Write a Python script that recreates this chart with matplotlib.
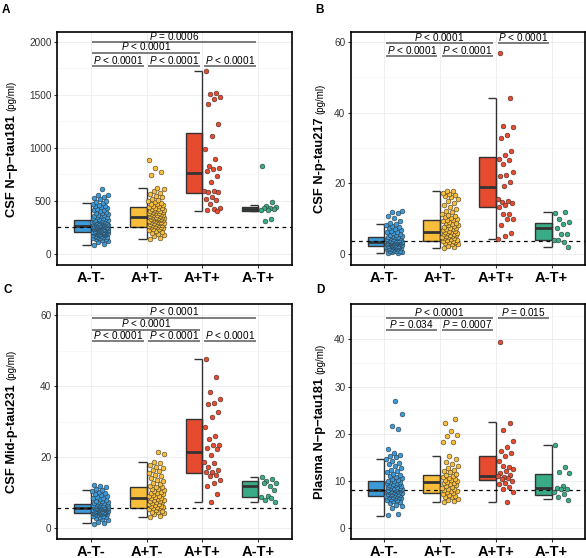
import matplotlib
matplotlib.use("Agg")

import matplotlib.pyplot as plt
import matplotlib.transforms as mtransforms
import numpy as np

plt.rcParams["font.family"] = ["Liberation Sans", "DejaVu Sans"]
plt.rcParams["mathtext.fontset"] = "custom"
plt.rcParams["mathtext.it"] = "Liberation Sans:italic"
plt.rcParams["mathtext.rm"] = "Liberation Sans"

# Groups and colours
groups = ["A-T-", "A+T-", "A+T+", "A-T+"]
colors = ["#3d9ad8", "#f8bd3b", "#e64b2f", "#3aab87"]

# ---------------- Panel A: CSF N-p-tau181 ----------------
a_atm = [85, 96, 112, 119, 131, 137, 144, 149, 153, 156, 161, 164, 170, 171, 176, 179, 180, 184,
         187, 189, 190, 194, 196, 199, 201, 203, 203, 207, 209, 211, 212, 215, 217, 219, 220, 223,
         225, 226, 229, 231, 232, 235, 237, 238, 241, 244, 246, 248, 250, 250, 253, 256, 258, 259,
         262, 263, 265, 266, 269, 270, 272, 274, 276, 279, 280, 283, 285, 288, 290, 292, 295, 297,
         300, 302, 306, 309, 310, 313, 316, 319, 322, 325, 330, 333, 338, 341, 346, 351, 354, 360,
         366, 370, 377, 383, 388, 395, 402, 411, 417, 425, 433, 441, 449, 455, 463, 472, 480, 491,
         503, 515, 528, 540, 553, 561, 612]
a_apm = [142, 155, 168, 180, 191, 200, 211, 219, 227, 234, 240, 246, 251, 255, 258, 262, 266, 270,
         273, 277, 281, 284, 288, 291, 295, 298, 302, 305, 309, 312, 316, 320, 323, 327, 330, 334,
         337, 341, 344, 348, 351, 353, 357, 360, 364, 367, 371, 374, 378, 382, 385, 389, 393, 397,
         401, 405, 409, 414, 418, 423, 427, 432, 437, 442, 448, 454, 461, 468, 476, 484, 493, 502,
         512, 523, 535, 548, 562, 577, 593, 610, 624, 741, 772, 811, 890]
a_app = [1726, 1519, 1509, 1478, 1459, 1412, 1229, 1113, 987, 896, 830, 808, 799, 786, 739, 679,
         594, 590, 588, 583, 541, 522, 512, 472, 431, 424, 415, 410]
a_amp = [827, 494, 457, 446, 437, 430, 421, 419, 412, 333, 309]
a_q1 = [204, 257, 571, 409]
a_med = [264, 352, 767, 424]
a_q3 = [320, 440, 1140, 446]
a_lo = [85, 141, 409, 409]
a_hi = [483, 625, 1722, 459]
a_ref = 258
a_comps = [(1, 2, 1775, "P < 0.0001"), (2, 3, 1775, "P < 0.0001"), (3, 4, 1775, "P < 0.0001"),
           (1, 3, 1900, "P < 0.0001"), (1, 4, 2000, "P = 0.0006")]

# ---------------- Panel B: CSF N-p-tau217 ----------------
b_atm = [0.2, 0.3, 0.5, 0.6, 0.8, 0.9, 1.0, 1.2, 1.3, 1.4, 1.5, 1.6, 1.7, 1.8, 1.9, 1.9, 2.0, 2.1,
         2.2, 2.2, 2.3, 2.4, 2.4, 2.5, 2.6, 2.6, 2.7, 2.8, 2.8, 2.9, 3.0, 3.0, 3.1, 3.2, 3.2, 3.3,
         3.3, 3.4, 3.5, 3.5, 3.6, 3.6, 3.7, 3.8, 3.8, 3.9, 4.0, 4.1, 4.1, 4.2, 4.3, 4.4, 4.5, 4.6,
         4.7, 4.8, 4.9, 5.0, 5.2, 5.3, 5.5, 5.7, 5.9, 6.1, 6.3, 6.6, 6.8, 7.1, 7.3, 7.6, 7.9, 8.2,
         8.4, 8.8, 9.4, 10.1, 10.9, 11.5, 11.8, 12.1]
b_apm = [1.8, 2.1, 2.4, 2.7, 2.9, 3.1, 3.3, 3.5, 3.6, 3.8, 3.9, 4.1, 4.2, 4.4, 4.5, 4.7, 4.8, 5.0,
         5.1, 5.3, 5.4, 5.6, 5.7, 5.9, 6.0, 6.2, 6.3, 6.5, 6.6, 6.8, 7.0, 7.1, 7.3, 7.5, 7.7, 7.9,
         8.1, 8.3, 8.5, 8.7, 8.9, 9.1, 9.3, 9.5, 9.7, 9.9, 10.2, 10.5, 10.8, 11.1, 11.4, 11.8, 12.2,
         12.7, 13.2, 13.8, 14.5, 15.1, 15.6, 16.0, 16.4, 16.8, 17.1, 17.4, 17.7, 17.9]
b_app = [56.8, 44.2, 36.3, 35.9, 33.8, 32.8, 29.2, 28.1, 26.9, 26.5, 25.4, 23.3, 22.4, 22.1, 20.3,
         19.2, 15.7, 15.1, 14.8, 14.3, 14.0, 13.4, 11.3, 11.2, 10.0, 9.9, 8.3, 5.9, 5.2, 4.2]
b_amp = [11.5, 11.8, 9.8, 9.0, 8.4, 7.5, 5.7, 5.7, 4.0, 3.4, 4.0, 2.1]
b_q1 = [2.3, 3.7, 13.2, 4.0]
b_med = [3.5, 6.3, 19.1, 7.5]
b_q3 = [4.7, 9.6, 27.5, 8.9]
b_lo = [0.2, 1.8, 4.2, 2.1]
b_hi = [8.5, 17.9, 44.1, 11.8]
b_ref = 3.7
b_comps = [(1, 2, 56.0, "P < 0.0001"), (2, 3, 56.0, "P < 0.0001"),
           (1, 3, 59.6, "P < 0.0001"), (3, 4, 59.6, "P < 0.0001")]

# ---------------- Panel C: CSF Mid-p-tau231 ----------------
c_atm = [1.2, 1.5, 1.9, 2.3, 2.6, 2.9, 3.1, 3.3, 3.5, 3.6, 3.8, 3.9, 4.0, 4.1, 4.2, 4.3, 4.3, 4.4,
         4.5, 4.5, 4.6, 4.7, 4.7, 4.8, 4.9, 4.9, 5.0, 5.1, 5.1, 5.2, 5.3, 5.3, 5.4, 5.5, 5.5, 5.6,
         5.6, 5.7, 5.8, 5.8, 5.9, 6.0, 6.0, 6.1, 6.2, 6.2, 6.3, 6.4, 6.5, 6.5, 6.6, 6.7, 6.8, 6.9,
         7.0, 7.1, 7.2, 7.4, 7.5, 7.7, 7.8, 8.0, 8.2, 8.4, 8.6, 8.9, 9.1, 9.4, 9.7, 10.0, 10.3,
         10.6, 10.9, 11.2, 11.5, 11.8, 12.1]
c_apm = [3.3, 3.6, 3.9, 4.2, 4.5, 4.7, 5.0, 5.2, 5.4, 5.6, 5.8, 5.9, 6.1, 6.3, 6.4, 6.6, 6.8, 6.9,
         7.1, 7.3, 7.4, 7.6, 7.8, 7.9, 8.1, 8.3, 8.4, 8.6, 8.8, 9.0, 9.2, 9.4, 9.6, 9.8, 10.0, 10.2,
         10.5, 10.7, 11.0, 11.2, 11.5, 11.7, 12.0, 12.4, 12.8, 13.2, 13.6, 14.1, 14.6, 15.1, 15.6,
         16.0, 16.4, 16.9, 17.3, 17.8, 18.3, 18.6, 20.8, 21.5]
c_app = [47.7, 42.5, 38.3, 36.3, 35.3, 34.9, 32.6, 31.4, 28.4, 26.0, 25.1, 23.5, 23.4, 22.7, 22.2,
         20.5, 18.6, 18.4, 17.3, 16.3, 15.9, 15.8, 15.1, 14.7, 13.6, 12.7, 11.8, 9.6, 7.5]
c_amp = [14.3, 13.8, 13.4, 12.8, 12.0, 12.7, 10.8, 9.2, 8.9, 8.5, 7.9, 7.3]
c_q1 = [4.4, 5.8, 15.7, 8.9]
c_med = [5.6, 8.4, 21.4, 11.9]
c_q3 = [6.8, 11.7, 30.7, 13.2]
c_lo = [1.4, 3.3, 7.5, 7.3]
c_hi = [10.8, 18.7, 47.6, 14.3]
c_ref = 5.6
c_comps = [(1, 2, 52.7, "P < 0.0001"), (2, 3, 52.7, "P < 0.0001"), (3, 4, 52.7, "P < 0.0001"),
           (1, 3, 55.9, "P < 0.0001"), (1, 4, 59.3, "P < 0.0001")]

# ---------------- Panel D: Plasma N-p-tau181 ----------------
d_atm = [2.7, 3.0, 4.3, 4.7, 5.0, 5.3, 5.5, 5.7, 5.9, 6.0, 6.2, 6.3, 6.4, 6.5, 6.6, 6.7, 6.8, 6.9,
         7.0, 7.0, 7.1, 7.2, 7.3, 7.3, 7.4, 7.5, 7.6, 7.6, 7.7, 7.8, 7.8, 7.9, 8.0, 8.0, 8.1, 8.2,
         8.2, 8.3, 8.4, 8.5, 8.5, 8.6, 8.7, 8.8, 8.9, 9.0, 9.1, 9.2, 9.3, 9.4, 9.5, 9.6, 9.7, 9.8,
         9.9, 10.0, 10.2, 10.4, 10.6, 10.8, 11.0, 11.2, 11.5, 11.8, 12.1, 12.4, 12.7, 13.1, 13.5,
         13.9, 14.3, 14.7, 15.0, 15.3, 15.6, 16.0, 16.8, 21.0, 21.6, 24.1, 27.0]
d_apm = [5.5, 5.7, 6.0, 6.2, 6.5, 6.7, 6.9, 7.1, 7.3, 7.4, 7.6, 7.8, 7.9, 8.1, 8.3, 8.4, 8.6, 8.8,
         8.9, 9.1, 9.3, 9.5, 9.6, 9.8, 10.0, 10.1, 10.3, 10.5, 10.7, 10.9, 11.1, 11.3, 11.5, 11.8,
         12.1, 12.4, 12.8, 13.2, 13.6, 14.1, 14.6, 15.3, 18.2, 18.3, 19.5, 19.8, 20.6, 22.2, 23.1]
d_app = [39.4, 22.3, 20.7, 18.5, 17.3, 16.4, 15.9, 15.2, 14.2, 13.0, 13.1, 12.5, 12.2, 11.7, 11.3,
         10.9, 11.0, 10.6, 10.4, 10.0, 9.5, 9.4, 8.8, 8.3, 7.7, 5.6]
d_amp = [17.6, 13.0, 11.8, 11.6, 9.0, 8.5, 8.4, 8.2, 7.7, 7.3, 6.6, 6.0]
d_q1 = [6.8, 7.5, 10.1, 7.0]
d_med = [8.1, 9.7, 11.1, 8.5]
d_q3 = [10.0, 11.3, 15.2, 11.5]
d_lo = [2.6, 5.6, 5.6, 6.2]
d_hi = [14.7, 15.3, 22.4, 17.6]
d_ref = 8.0
d_comps = [(1, 2, 42.0, "P = 0.034"), (2, 3, 42.0, "P = 0.0007"),
           (1, 3, 44.5, "P < 0.0001"), (3, 4, 44.5, "P = 0.015")]

fig = plt.figure(figsize=(5.86, 5.58), dpi=100)
DARK = "#333333"


def draw_panel(ax, pts, q1, med, q3, lo, hi, ref, ylim, yticks, minor, comps):
    pos = np.arange(1, 5)
    ax.set_xlim(0.4, 4.6)
    ax.set_ylim(*ylim)
    ax.set_yticks(yticks)
    ax.set_yticks(minor, minor=True)
    ax.set_xticks(pos)
    ax.set_xticklabels(groups, fontsize=10.5, fontweight="bold")
    ax.set_axisbelow(True)
    ax.grid(which="major", color="#ebebeb", lw=0.6)
    ax.grid(which="minor", axis="y", color="#f3f3f3", lw=0.4)
    ax.tick_params(axis="y", which="minor", length=0)
    ax.tick_params(axis="both", which="major", length=2.5, width=0.8, color=DARK, pad=1.5)
    ax.tick_params(axis="y", labelsize=7.2, labelcolor=DARK)
    for s in ax.spines.values():
        s.set_linewidth(1.2)
        s.set_color("black")

    # half boxes on the left of each category
    ax.bar(pos, np.array(q3) - np.array(q1), bottom=q1, width=-0.3, align="edge",
           color=colors, edgecolor=DARK, linewidth=1.0, zorder=2)
    ax.hlines(med, pos - 0.3, pos, color=DARK, lw=2.0, zorder=3)
    # bracket whiskers
    ax.vlines(pos, lo, hi, color=DARK, lw=1.0, zorder=2.5)
    ax.hlines(lo, pos - 0.15, pos, color=DARK, lw=1.0, zorder=2.5)
    ax.hlines(hi, pos - 0.15, pos, color=DARK, lw=1.0, zorder=2.5)

    ax.axhline(ref, color="black", ls=(0, (3, 3)), lw=0.9, zorder=3)

    # jittered points on the right of each category
    for k, vals in enumerate(pts):
        idx = np.arange(len(vals))
        xs = pos[k] + 0.03 + 0.29 * ((idx * 0.618034 + 0.13) % 1)
        ax.scatter(xs, vals, s=12, color=colors[k], edgecolor="#2a2a2a", linewidth=0.35, zorder=4)

    # significance lines
    for i, j, y, lab in comps:
        ax.plot([i + 0.03, j - 0.05], [y, y], color="#5a5a5a", lw=1.1, zorder=5,
                solid_capstyle="butt")
        txt = "$\\mathit{P}$" + lab[1:]
        ax.annotate(txt, xy=((i + j - 0.02) / 2, y), xytext=(0, 1.6), textcoords="offset points",
                    ha="center", va="baseline", fontsize=7.2, zorder=6)


def add_ylabel(ax, name, unit, x_px):
    trans = ax.transAxes + mtransforms.ScaledTranslation(x_px / 100, 0, fig.dpi_scale_trans)
    t1 = ax.text(0, 0.5, name, transform=trans, rotation=90, rotation_mode="anchor",
                 ha="left", va="baseline", fontsize=9.3, fontweight="bold")
    t2 = ax.text(0, 0.5, unit, transform=trans, rotation=90, rotation_mode="anchor",
                 ha="left", va="baseline", fontsize=7)
    return [ax, t1, t2]


W, H = 586, 558
ax_a = fig.add_axes([57 / W, 1 - 265 / H, 235 / W, 233 / H])
ax_b = fig.add_axes([351 / W, 1 - 265 / H, 234 / W, 233 / H])
ax_c = fig.add_axes([57 / W, 1 - 539 / H, 235 / W, 235 / H])
ax_d = fig.add_axes([351 / W, 1 - 539 / H, 234 / W, 235 / H])

draw_panel(ax_a, [a_atm, a_apm, a_app, a_amp], a_q1, a_med, a_q3, a_lo, a_hi, a_ref,
           (-104, 2094), [0, 500, 1000, 1500, 2000], [250, 750, 1250, 1750], a_comps)
draw_panel(ax_b, [b_atm, b_apm, b_app, b_amp], b_q1, b_med, b_q3, b_lo, b_hi, b_ref,
           (-3.1, 62.8), [0, 20, 40, 60], [10, 30, 50], b_comps)
draw_panel(ax_c, [c_atm, c_apm, c_app, c_amp], c_q1, c_med, c_q3, c_lo, c_hi, c_ref,
           (-3.0, 63.1), [0, 20, 40, 60], [10, 30, 50], c_comps)
draw_panel(ax_d, [d_atm, d_apm, d_app, d_amp], d_q1, d_med, d_q3, d_lo, d_hi, d_ref,
           (-2.3, 47.5), [0, 10, 20, 30, 40], [5, 15, 25, 35, 45], d_comps)

labels = [
    add_ylabel(ax_a, "CSF N\u2212p\u2212tau181", "(pg/ml)", -42.5),
    add_ylabel(ax_b, "CSF N-p-tau217", "(pg/ml)", -27.5),
    add_ylabel(ax_c, "CSF Mid-p-tau231", "(pg/ml)", -42.5),
    add_ylabel(ax_d, "Plasma N\u2212p\u2212tau181", "(pg/ml)", -27.5),
]

# centre the two-part y labels along each axis
fig.canvas.draw()
renderer = fig.canvas.get_renderer()
for ax, t1, t2 in labels:
    h1 = t1.get_window_extent(renderer).height
    h2 = t2.get_window_extent(renderer).height
    gap = 4
    axh = ax.bbox.height
    y0 = 0.5 - (h1 + gap + h2) / 2 / axh
    t1.set_y(y0)
    t2.set_y(y0 + (h1 + gap) / axh)

# panel letters
for letter, x, y in [("A", 2, 4), ("B", 315, 4), ("C", 3, 284), ("D", 316, 284)]:
    fig.text(x / W, 1 - y / H, letter, fontsize=8.5, fontweight="bold", ha="left", va="top")

fig.savefig("out.png", dpi=100)
plt.close(fig)
